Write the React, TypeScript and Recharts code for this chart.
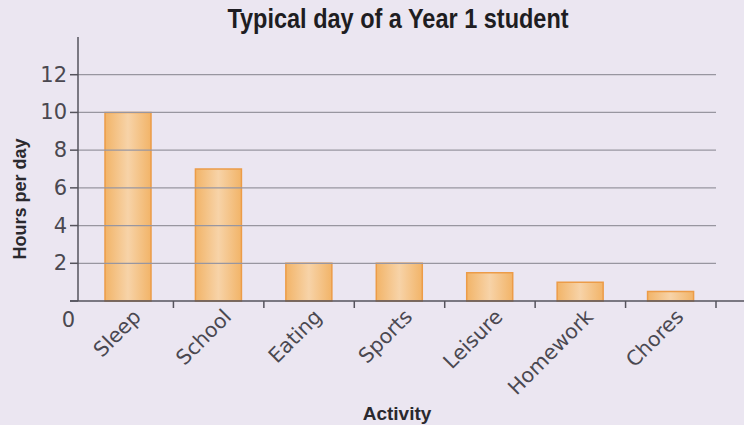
import React from "react";
import {
  BarChart, Bar, XAxis, YAxis, ReferenceLine,
} from "recharts";

const activities = ["Sleep", "School", "Eating", "Sports", "Leisure", "Homework", "Chores"];
const hours = [10, 7, 2, 2, 1.5, 1, 0.5];
const yTicks = [0, 2, 4, 6, 8, 10, 12];
const gridValues = [2, 4, 6, 8, 10, 12];

const BG = "#ebe6f1";
const AXIS = "#55535c";
const TEXT = "#4a4850";

if (typeof document !== "undefined") {
  document.body.style.margin = "0";
  document.body.style.background = BG;
}

const data = activities.map((name, i) => ({ name, hours: hours[i] }));

// y tick: the zero sits below the x axis in the original
function YTick(props: any) {
  const { x, y, payload } = props;
  const zero = payload.value === 0;
  return (
    <text
      x={zero ? x + 8 : x}
      y={zero ? y + 19 : y}
      textAnchor="end"
      dominantBaseline="central"
      fontFamily="'DejaVu Sans', sans-serif"
      fontSize={21}
      fill={TEXT}
    >
      {payload.value}
    </text>
  );
}

// rotated label plus a tick mark on the right edge of each band
function XTick(props: any) {
  const { x, y, payload } = props;
  const edge = x + (payload.offset || 0);
  const lx = x + 14;
  const ly = y + 17;
  return (
    <g>
      <line x1={edge} y1={y} x2={edge} y2={y + 7} stroke={AXIS} strokeWidth={1.5} />
      <text
        x={lx}
        y={ly}
        textAnchor="end"
        fontFamily="'DejaVu Sans', sans-serif"
        fontSize={20.5}
        fill={TEXT}
        transform={`rotate(-45 ${lx} ${ly})`}
      >
        {payload.value}
      </text>
    </g>
  );
}

// x axis line runs past the plot on both sides
function LongAxis(props: any) {
  const { x1, x2, y1 } = props;
  return <line x1={x1 - 8} y1={y1} x2={x2 + 28} y2={y1} stroke={AXIS} strokeWidth={1.5} />;
}

export default function App() {
  return (
    <div style={{ position: "relative", width: 744, height: 425, background: BG, overflow: "hidden" }}>
      <div
        style={{
          position: "absolute", left: 398, top: 4, transform: "translateX(-50%) scaleX(0.87)",
          whiteSpace: "nowrap",
          fontFamily: "'Liberation Sans', sans-serif",
          fontWeight: 700, fontSize: 27, color: "#1e1d22",
        }}
      >
        Typical day of a Year 1 student
      </div>
      <BarChart
        width={744}
        height={425}
        data={data}
        margin={{ top: 37, right: 28, left: 0, bottom: 0 }}
        style={{ position: "absolute", left: 0, top: 0 }}
      >
        <defs>
          <linearGradient id="barGrad" x1="0" y1="0" x2="1" y2="0">
            <stop offset="0%" stopColor="#f2b468" />
            <stop offset="50%" stopColor="#f7d3a8" />
            <stop offset="100%" stopColor="#f2b468" />
          </linearGradient>
        </defs>
        <XAxis
          dataKey="name"
          padding={{ left: 5, right: 0 }}
          height={124}
          axisLine={false}
          tickLine={false}
          tickSize={0}
          tickMargin={0}
          interval={0}
          tick={<XTick />}
          label={{
            value: "Activity", position: "insideBottom", offset: 5,
            fontFamily: "'Liberation Sans', sans-serif", fontWeight: 700, fontSize: 19, fill: "#2a292e",
          }}
        />
        <YAxis
          width={78}
          domain={[0, 14]}
          ticks={yTicks}
          interval={0}
          tickSize={8}
          tickMargin={3}
          axisLine={{ stroke: AXIS, strokeWidth: 1.5 }}
          tickLine={{ stroke: AXIS, strokeWidth: 1.5 }}
          tick={<YTick />}
          label={{
            value: "Hours per day", angle: -90, position: "center", dx: -19, dy: 30,
            fontFamily: "'Liberation Sans', sans-serif", fontWeight: 700, fontSize: 18, fill: "#2a292e",
          }}
        />
        {gridValues.map((v) => (
          <ReferenceLine key={v} y={v} stroke="#9896a0" strokeWidth={1.2} />
        ))}
        <ReferenceLine y={0} ifOverflow="visible" shape={<LongAxis />} />
        <Bar
          dataKey="hours"
          barSize={46}
          fill="url(#barGrad)"
          stroke="#ec9c48"
          strokeWidth={1.5}
          isAnimationActive={false}
        />
      </BarChart>
    </div>
  );
}
